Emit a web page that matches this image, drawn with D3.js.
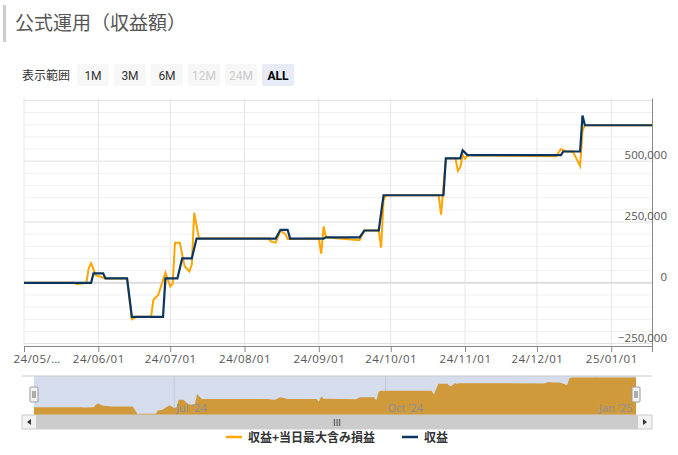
<!DOCTYPE html>
<html><head><meta charset="utf-8">
<script src="https://cdn.jsdelivr.net/npm/d3@7"></script>
<style>
body{margin:0;background:#fff;font-family:"Noto Sans CJK JP","Noto Sans",sans-serif;}
</style></head>
<body><svg id="chart" width="678" height="455"></svg>
<script>
// 収益 (step series)
var profitDates = ["2024-05-01","2024-05-29","2024-05-30","2024-06-03","2024-06-04","2024-06-13","2024-06-15","2024-06-28","2024-06-29","2024-07-04","2024-07-06","2024-07-10","2024-07-12","2024-08-14","2024-08-16","2024-08-19","2024-08-20","2024-09-03","2024-09-04","2024-09-18","2024-09-20","2024-09-26","2024-09-28","2024-10-23","2024-10-24","2024-10-30","2024-10-31","2024-11-02","2024-12-11","2024-12-12","2024-12-19","2024-12-20","2024-12-21","2025-01-18"];
var profitValues = [0,0,39000,39000,18000,18000,-140000,-140000,18000,18000,100000,100000,182000,182000,218000,218000,182000,182000,187000,187000,215000,215000,360000,360000,512000,512000,545000,525000,525000,540000,540000,688000,648000,648000];
// 収益+当日最大含み損益
var totalDates = ["2024-05-01","2024-05-22","2024-05-23","2024-05-27","2024-05-28","2024-05-29","2024-05-31","2024-06-02","2024-06-04","2024-06-13","2024-06-15","2024-06-17","2024-06-23","2024-06-24","2024-06-26","2024-06-29","2024-07-01","2024-07-02","2024-07-03","2024-07-05","2024-07-07","2024-07-09","2024-07-10","2024-07-11","2024-07-13","2024-08-11","2024-08-12","2024-08-14","2024-08-16","2024-08-18","2024-08-19","2024-09-01","2024-09-02","2024-09-03","2024-09-04","2024-09-18","2024-09-20","2024-09-26","2024-09-27","2024-09-28","2024-09-29","2024-10-21","2024-10-22","2024-10-24","2024-10-28","2024-10-29","2024-10-30","2024-10-31","2024-11-01","2024-11-02","2024-12-09","2024-12-11","2024-12-13","2024-12-16","2024-12-19","2024-12-20","2024-12-21","2025-01-18"];
var totalValues = [0,0,-6000,0,60000,80000,30000,25000,18000,18000,-150000,-140000,-140000,-70000,-50000,42000,-15000,-5000,165000,165000,68000,47000,75000,288000,182000,182000,170000,165000,215000,200000,180000,182000,120000,232000,187000,175000,215000,215000,145000,340000,360000,360000,280000,512000,512000,460000,475000,525000,510000,525000,520000,550000,540000,540000,480000,625000,648000,648000];
var yTicks = [-250000,0,250000,500000];
var xTickDates = ["2024-05-01","2024-06-01","2024-07-01","2024-08-01","2024-09-01","2024-10-01","2024-11-01","2024-12-01","2025-01-01"];
var navTicks = [["2024-07-01","Jul '24"],["2024-10-01","Oct '24"],["2025-01-01","Jan '25"]];
var ranges = ["1M","3M","6M","12M","24M","ALL"];
var seriesNames = ["収益+当日最大含み損益","収益"];
var colors = ["#ffa500","#0b3561"];

var parse = d3.timeParse("%Y-%m-%d");
var profit = profitDates.map(function(d,i){return {date:parse(d),value:profitValues[i]};});
var total = totalDates.map(function(d,i){return {date:parse(d),value:totalValues[i]};});

var svg = d3.select("#chart");
var font = '"Noto Sans CJK JP","Noto Sans",sans-serif';

// title
svg.append("rect").attr("x",3).attr("y",5).attr("width",3).attr("height",37).attr("fill","#ccc");
svg.append("text").attr("x",15).attr("y",30).attr("font-size",19).attr("fill","#555").attr("font-family",font).text("公式運用（収益額）");

// range selector
svg.append("text").attr("x",22).attr("y",80).attr("font-size",12).attr("fill","#333").text("表示範囲");
ranges.forEach(function(r,i){
  var x = 77 + i*37;
  var sel = r==="ALL", dis = r==="12M"||r==="24M";
  svg.append("rect").attr("x",x).attr("y",64).attr("width",32).attr("height",22).attr("rx",2)
    .attr("fill", sel ? "#e6ebf5" : "#f7f7f7");
  svg.append("text").attr("x",x+16).attr("y",80).attr("text-anchor","middle").attr("font-size",12)
    .attr("font-weight", sel ? "bold" : "normal").attr("font-family","Roboto, sans-serif")
    .attr("fill", sel ? "#000" : dis ? "#ccc" : "#333").text(r);
});

// main plot
var x = d3.scaleTime().domain([parse("2024-05-01"),parse("2025-01-18")]).range([24,652]);
var y = d3.scaleLinear().domain([-260000,760000]).range([346,98]);

var minor = d3.range(-250000,760001,50000);
svg.append("g").selectAll("line").data(minor).join("line")
  .attr("x1",24).attr("x2",652).attr("y1",function(d){return y(d);}).attr("y2",function(d){return y(d);})
  .attr("stroke",function(d){return d%250000===0?"#e0e0e0":"#f0f0f0";}).attr("stroke-width",1);
svg.append("g").selectAll("line").data(xTickDates).join("line")
  .attr("x1",function(d){return x(parse(d));}).attr("x2",function(d){return x(parse(d));})
  .attr("y1",98).attr("y2",346).attr("stroke","#e6e6e6");
svg.append("line").attr("x1",24).attr("x2",652).attr("y1",y(0)).attr("y2",y(0)).attr("stroke","#ddd").attr("stroke-width",2);

var xAxis = svg.append("g").attr("transform","translate(0,346)")
  .call(d3.axisBottom(x).tickValues(xTickDates.map(parse)).tickSize(6)
    .tickFormat(function(d,i){return i===0?"24/05/…":d3.timeFormat("%y/%m/%d")(d);}));
xAxis.select(".domain").attr("stroke","#888");
xAxis.selectAll("line").attr("stroke","#888");
xAxis.selectAll("text").attr("fill","#555").attr("font-size",11.5).attr("font-family","'Open Sans',sans-serif").attr("letter-spacing","0.5px");
xAxis.selectAll(".tick").filter(function(d,i){return i===0;}).select("text").attr("text-anchor","start").attr("x",-11);

var yAxis = svg.append("g").attr("transform","translate(652,0)")
  .call(d3.axisRight(y).tickValues(yTicks).tickSize(0).tickFormat(d3.format(",")));
yAxis.select(".domain").attr("stroke","#888");
yAxis.selectAll("text").attr("fill","#555").attr("font-size",11.5).attr("font-family","'Open Sans',sans-serif")
  .attr("text-anchor","end").attr("x",15).attr("dy","-0.2em");

var line = d3.line().x(function(d){return x(d.date);}).y(function(d){return y(d.value);});
svg.append("path").datum(total).attr("d",line).attr("fill","none").attr("stroke",colors[0]).attr("stroke-width",2);
svg.append("path").datum(profit).attr("d",line).attr("fill","none").attr("stroke",colors[1]).attr("stroke-width",2.2);

// navigator
var nx = d3.scaleTime().domain(x.domain()).range([34,636]);
var ny = d3.scaleLinear().domain([-170000,660000]).range([415,377]);
svg.append("rect").attr("x",34).attr("y",376).attr("width",602).attr("height",39).attr("fill","#d5dcec");
svg.append("line").attr("x1",22).attr("x2",652).attr("y1",376).attr("y2",376).attr("stroke","#ccc");
svg.append("g").selectAll("line").data(navTicks).join("line")
  .attr("x1",function(d){return nx(parse(d[0]));}).attr("x2",function(d){return nx(parse(d[0]));})
  .attr("y1",376).attr("y2",415).attr("stroke","#c4c9d6");
var area = d3.area().x(function(d){return nx(d.date);}).y0(415).y1(function(d){return ny(d.value);});
svg.append("path").datum(total).attr("d",area).attr("fill","#d09a3a");
svg.append("g").selectAll("text").data(navTicks).join("text")
  .attr("x",function(d){return nx(parse(d[0]))+2;}).attr("y",412).attr("font-size",11).attr("fill","#8a8fa0")
  .attr("font-family","'Open Sans',sans-serif").text(function(d){return d[1];});
[34,636].forEach(function(hx){
  svg.append("rect").attr("x",hx-4).attr("y",387).attr("width",8).attr("height",15).attr("rx",1).attr("fill","#f2f2f2").attr("stroke","#999");
  svg.append("line").attr("x1",hx-1).attr("x2",hx-1).attr("y1",391).attr("y2",398).attr("stroke","#666");
  svg.append("line").attr("x1",hx+1).attr("x2",hx+1).attr("y1",391).attr("y2",398).attr("stroke","#666");
});
// scrollbar
svg.append("rect").attr("x",22).attr("y",415).attr("width",630).attr("height",14).attr("fill","#f2f2f2").attr("stroke","#ccc");
svg.append("rect").attr("x",36).attr("y",415).attr("width",602).attr("height",14).attr("fill","#ccc");
svg.append("text").attr("x",337).attr("y",426).attr("text-anchor","middle").attr("font-size",9).attr("fill","#333").text("III");
svg.append("path").attr("d","M31,419 L27,422 L31,425Z").attr("fill","#333");
svg.append("path").attr("d","M643,419 L647,422 L643,425Z").attr("fill","#333");

// legend
var lg = svg.append("g");
[[226,0],[402,1]].forEach(function(p){
  var i = p[1];
  lg.append("line").attr("x1",p[0]).attr("x2",p[0]+16).attr("y1",437).attr("y2",437).attr("stroke",colors[i]).attr("stroke-width",2.5);
  lg.append("text").attr("x",p[0]+22).attr("y",442).attr("font-size",12).attr("font-weight","bold").attr("fill","#333").text(seriesNames[i]);
});
</script></body></html>
